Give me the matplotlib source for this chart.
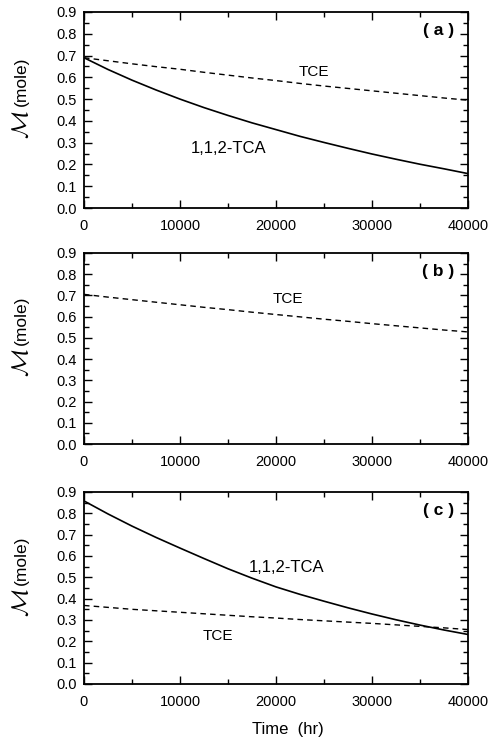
import numpy as np
import matplotlib
matplotlib.use("Agg")
import matplotlib.pyplot as plt
from matplotlib.ticker import MultipleLocator, FormatStrFormatter

plt.rcParams['font.family'] = ['Liberation Sans', 'DejaVu Sans']
plt.rcParams['mathtext.fontset'] = 'cm'

# time axis (hr)
time = [0, 2500, 5000, 7500, 10000, 12500, 15000, 17500, 20000,
        22500, 25000, 27500, 30000, 32500, 35000, 37500, 40000]

# panel (a)
tca_a = [0.690, 0.636, 0.587, 0.542, 0.500, 0.461, 0.425, 0.391, 0.360,
         0.329, 0.301, 0.274, 0.248, 0.224, 0.201, 0.180, 0.158]
tce_a = [0.690, 0.676, 0.662, 0.649, 0.637, 0.623, 0.610, 0.597, 0.585,
         0.572, 0.560, 0.549, 0.538, 0.527, 0.516, 0.505, 0.495]

# panel (b)
tce_b = [0.705, 0.692, 0.680, 0.668, 0.656, 0.644, 0.633, 0.621, 0.610,
         0.599, 0.588, 0.578, 0.567, 0.557, 0.547, 0.537, 0.528]

# panel (c)
tca_c = [0.858, 0.797, 0.740, 0.687, 0.637, 0.588, 0.540, 0.496, 0.455,
         0.420, 0.388, 0.357, 0.328, 0.301, 0.276, 0.253, 0.232]
tce_c = [0.368, 0.359, 0.350, 0.343, 0.336, 0.329, 0.322, 0.315, 0.309,
         0.302, 0.296, 0.290, 0.284, 0.277, 0.270, 0.263, 0.255]


def style_axes(ax):
    ax.set_xlim(0, 40000)
    ax.set_ylim(0, 0.9)
    ax.xaxis.set_major_locator(MultipleLocator(10000))
    ax.xaxis.set_minor_locator(MultipleLocator(5000))
    ax.yaxis.set_major_locator(MultipleLocator(0.1))
    ax.yaxis.set_minor_locator(MultipleLocator(0.05))
    ax.yaxis.set_major_formatter(FormatStrFormatter('%.1f'))
    ax.tick_params(which='both', direction='in', top=True, right=True,
                   labelsize=10.5, width=1.0)
    ax.tick_params(which='major', length=6)
    ax.tick_params(which='minor', length=3.5)
    ax.tick_params(axis='x', pad=8)
    ax.tick_params(axis='y', pad=5)
    for s in ax.spines.values():
        s.set_linewidth(1.3)
    # y label: large script M plus "(mole)"
    ax.text(-0.162, 0.425, r'$\mathcal{M}$', fontsize=17, rotation=90,
            ha='center', va='center', transform=ax.transAxes)
    ax.text(-0.162, 0.645, '(mole)', fontsize=12.5, rotation=90,
            ha='center', va='center', transform=ax.transAxes)


fig = plt.figure(figsize=(4.92, 7.48), dpi=100)
left, width = 0.1707, 0.7805
ax_a = fig.add_axes([left, 0.7219, width, 0.2621])
ax_b = fig.add_axes([left, 0.4064, width, 0.2554])
ax_c = fig.add_axes([left, 0.0856, width, 0.2567])

dash = (0, (4, 3))

ax_a.plot(time, tca_a, color='black', lw=1.2)
ax_a.plot(time, tce_a, color='black', lw=1.0, ls=dash)
ax_a.text(23960, 0.624, 'TCE', fontsize=11, ha='center', va='center')
ax_a.text(15100, 0.275, '1,1,2-TCA', fontsize=12, ha='center', va='center')
ax_a.text(38600, 0.813, '( a )', fontsize=12.5, fontweight='bold', ha='right', va='center')

ax_b.plot(time, tce_b, color='black', lw=1.0, ls=dash)
ax_b.text(21250, 0.683, 'TCE', fontsize=11, ha='center', va='center')
ax_b.text(38600, 0.815, '( b )', fontsize=12.5, fontweight='bold', ha='right', va='center')

ax_c.plot(time, tca_c, color='black', lw=1.2)
ax_c.plot(time, tce_c, color='black', lw=1.0, ls=dash)
ax_c.text(21150, 0.548, '1,1,2-TCA', fontsize=12, ha='center', va='center')
ax_c.text(13960, 0.225, 'TCE', fontsize=11, ha='center', va='center')
ax_c.text(38600, 0.815, '( c )', fontsize=12.5, fontweight='bold', ha='right', va='center')
ax_c.set_xlabel('Time  (hr)', fontsize=12, labelpad=12)
ax_c.xaxis.set_label_coords(0.53, -0.2)

for ax in (ax_a, ax_b, ax_c):
    style_axes(ax)

fig.savefig('out.png', dpi=100)
